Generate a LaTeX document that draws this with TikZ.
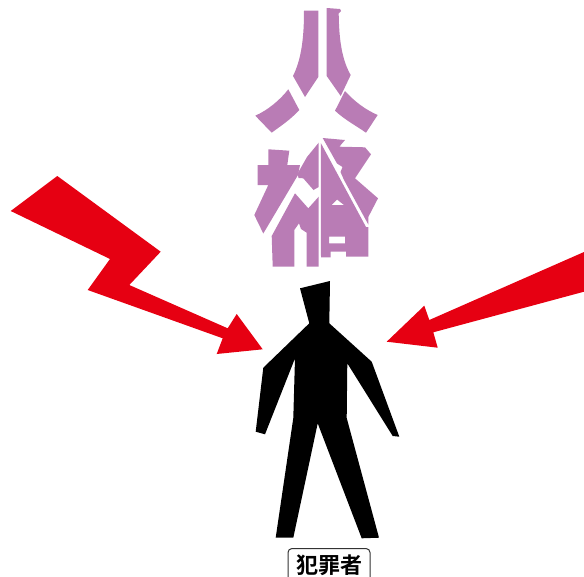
\documentclass[tikz,border=0pt]{standalone}
\usepackage{fontspec}
\usepackage{xcolor}
\usepackage{tikz}
\newfontfamily\cjkfont[BoldFont={Noto Sans CJK JP Bold}]{Noto Sans CJK JP}
\definecolor{glyphpurple}{HTML}{B97CB5}
\definecolor{boltred}{HTML}{E60012}

\begin{document}
\begin{tikzpicture}[
    x=1pt,
    y=-1pt,
    glyph/.style={
        fill=glyphpurple,
        draw=none,
        even odd rule
    },
    bolt/.style={
        fill=boltred,
        draw=none
    },
    figure/.style={
        fill=black,
        draw=none
    },
    namebox/.style={
        draw=black!80,
        rounded corners=4pt,
        line width=1pt,
        font=\cjkfont\bfseries\fontsize{22}{24}\selectfont,
        minimum width=82pt,
        minimum height=34pt,
        inner sep=0pt
    }
]
\useasboundingbox (0,0) rectangle (584,576);

% Upper glyph
\fill[glyph] (304,10.7) -- (318.3,10.7) -- (318.3,77) -- (305,97) -- (293,76)
    .. controls (302,58) and (304,35) .. cycle;
\fill[glyph] (326.7,8) -- (340,9) -- (341,11) -- (338.7,13.3)
    .. controls (339,40) and (342,60) .. (350.7,75) -- (340.7,96) -- (326.7,76) -- cycle;
\fill[glyph] (288.3,89.3) -- (299.3,110) .. controls (290,120) and (282,125) .. (271.7,132.7)
    -- (255.3,115.7) .. controls (268,110) and (280,100) .. cycle;
\fill[glyph] (345,91) .. controls (355,102) and (366,110) .. (377.7,115) -- (366,132.7)
    .. controls (355,125) and (345,120) .. (335,110.7) -- cycle;

% Lower glyph
\fill[glyph] (268.3,149.3) -- (289.3,150.7) -- (287.3,165) -- (300,165) -- (298,175)
    -- (263.3,233.5) -- (254.3,215) -- (268.3,185) -- (257.7,185) -- (257.7,165) -- (268.3,165) -- cycle;
\fill[glyph] (297.7,173.3) -- (307,157) -- (318.7,142.7) -- (318.7,187) -- (313.5,190)
    -- (303.3,178.3) -- (298.5,178) -- cycle;
\fill[glyph] (271.7,236) -- (295,193.3) -- (308.3,208.3) -- (318.7,196.7) -- (318.7,266.7)
    -- (306.7,266.7) -- (306.7,232.7) -- (301,229) -- (299,223.3) -- (294.3,230) -- (294.3,266.7) -- (272.7,266.7) -- cycle;
\fill[glyph] (320.8,143) -- (366,227) -- (368.3,227) -- (368.3,256.7) -- (346,256.7) -- (346,251.7)
    -- (330.7,251.7) -- (330.7,257.3) -- (321,257.3) -- cycle
    (329,236.7) rectangle (345,243.3)
    (331.7,205) -- (344,205) -- (337,199.5) -- cycle;
\fill[glyph] (322.7,138) -- (345,140) -- (339.3,146.7) -- (365,147.3) -- (371,154.3)
    -- (355,178.3) -- (378,198.3) -- (368.3,217) -- (368.3,224.5) -- (344,180) -- (340.5,172) -- (342.5,167) -- (337,163.5) -- cycle;

% Bolt from the left
\fill[bolt] (57.3,176) -- (160.7,251.7) -- (129.3,285) -- (227.7,328.3) -- (236.7,314)
    -- (262.7,349.3) -- (216.7,354) -- (222.7,338.3) -- (87.7,290) -- (110,259) -- (10.7,211) -- cycle;

% Arrow from the right
\fill[bolt] (584,252) -- (584,291.7) -- (433.3,332.3) -- (437.7,347.7) -- (386.7,341.7)
    -- (424.3,305.7) -- (429.3,320) -- cycle;

% Person
\fill[figure] (300,288.3) -- (330,281) -- (329.3,323.3) -- (371.7,361.7) -- (399.3,436.7)
    -- (392.7,436) -- (347.3,363.3) -- (346.7,418) -- (379,537.7) -- (361.7,538.3)
    -- (317.7,423.3) -- (293.3,537.7) -- (275.7,537.7) -- (293.3,418) -- (295,358.3)
    -- (265,434.3) -- (255.7,431.7) -- (263.3,367.7) -- (309.3,323.3) -- cycle;

% Label
\node[namebox] (offender) at (329,565.5) {犯罪者};

\end{tikzpicture}
\end{document}
